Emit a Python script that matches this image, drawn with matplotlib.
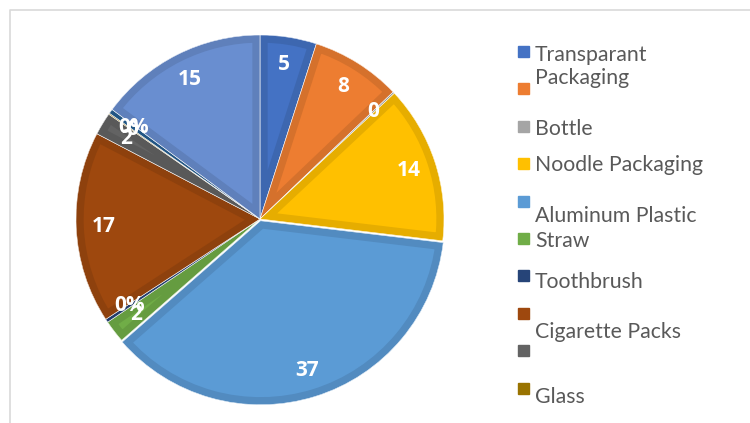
import numpy as np
import matplotlib.pyplot as plt
import matplotlib.patches as mpatches
from matplotlib.lines import Line2D
from matplotlib.colors import to_rgb

plt.rcParams['font.family'] = ['Lato', 'DejaVu Sans']

# slices, clockwise from 12 o'clock
values = [5, 8, 0.15, 14, 37, 2, 0.3, 17, 2, 0.1, 0.4, 15]
slice_labels = ['5', '8', '0', '14', '37', '2', '0%', '17', '2', '0', '0%', '15']
colors = ['#4472C4', '#ED7D31', '#A5A5A5', '#FFC000', '#5B9BD5', '#70AD47',
          '#264478', '#9E480E', '#636363', '#997300', '#255E91', '#698ED0']
explode = [0, 0, 0, 0, 0.01, 0, 0, 0, 0, 0, 0, 0]

legend_colors = colors[:10]
legend_texts = ['Transparant', 'Packaging', 'Bottle', 'Noodle Packaging',
                'Aluminum Plastic', 'Straw', 'Toothbrush', 'Cigarette Packs', 'Glass']
# text rows drift away from the swatches in this legend
legend_text_y = [55, 78, 129, 165, 216, 241, 282, 332, 397]

W, H = 750, 423
fig = plt.figure(figsize=(7.5, 4.23), dpi=100)

cx, cy, r = 260, 219, 184
box = 400
ax = fig.add_axes([(cx - box / 2) / W, (H - cy - box / 2) / H, box / W, box / H])
lim = box / 2 / r

wedges, _ = ax.pie(values, colors=colors, startangle=90, counterclock=False,
                   explode=explode, radius=1, frame=True)
ax.set_xlim(-lim, lim)
ax.set_ylim(-lim, lim)
ax.set_aspect('equal')
ax.axis('off')

for w, c, lab in zip(wedges, colors, slice_labels):
    # darker rim inside each slice
    dark = tuple(v * 0.9 for v in to_rgb(c))
    rim = mpatches.Wedge(w.center, w.r, w.theta1, w.theta2, fc='none', ec=dark, lw=11)
    ax.add_patch(rim)
    rim.set_clip_path(w)
    sep = mpatches.Wedge(w.center, w.r, w.theta1, w.theta2, fc='none', ec='white', lw=0.4)
    ax.add_patch(sep)
    mid = np.deg2rad((w.theta1 + w.theta2) / 2)
    ax.text(w.center[0] + 0.85 * np.cos(mid), w.center[1] + 0.85 * np.sin(mid), lab,
            color='white', fontsize=15, fontweight='bold', ha='center', va='center',
            family=['Open Sans', 'DejaVu Sans'])

# legend swatches
sw = 11
for i, c in enumerate(legend_colors):
    y = 51.5 + i * 37.4
    fig.add_artist(mpatches.Rectangle((518 / W, (H - y - sw / 2) / H), sw / W, sw / H,
                                      transform=fig.transFigure, color=c))
for t, y in zip(legend_texts, legend_text_y):
    fig.text(535 / W, (H - y) / H, t, color='#595959', fontsize=15.3, va='center', ha='left')

# chart area border
fig.add_artist(Line2D([10 / W, 10 / W, 1], [0, (H - 10) / H, (H - 10) / H],
                      transform=fig.transFigure, color='#D9D9D9', lw=1.2))

fig.savefig('out.png', dpi=100)
